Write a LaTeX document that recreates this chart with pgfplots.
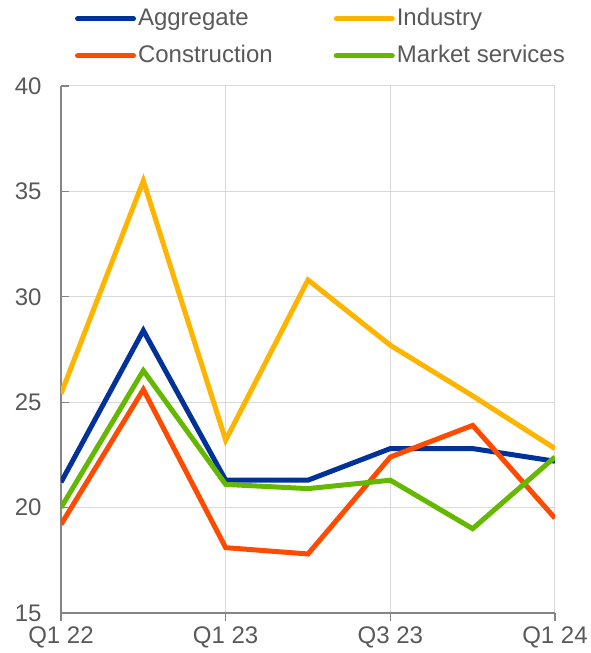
\documentclass[border=0pt]{standalone}
\usepackage{fontspec}
\setmainfont{Liberation Sans}
\usepackage{pgfplots}
\pgfplotsset{compat=1.18}
\definecolor{ecbblue}{HTML}{003299}
\definecolor{ecbyellow}{HTML}{FFB400}
\definecolor{ecborange}{HTML}{FF4B00}
\definecolor{ecbgreen}{HTML}{65B800}
\definecolor{txtgray}{HTML}{595959}
\definecolor{gridgray}{HTML}{D9D9D9}
\definecolor{axgray}{HTML}{858585}
\begin{document}
\begin{tikzpicture}
\begin{axis}[
  at={(61pt,40pt)}, anchor=south west,
  scale only axis, width=494pt, height=527pt,
  xmin=0, xmax=6, ymin=15, ymax=40,
  xtick={0,2,4,6}, xticklabels={Q1 22,Q1 23,Q3 23,Q1 24},
  ytick={15,20,...,40},
  axis lines*=left,
  axis line style={axgray, line width=1.3pt},
  major tick length=8pt,
  tick style={axgray, line width=1.3pt},
  x tick style={yshift=-8pt},
  grid=major,
  major grid style={gridgray, line width=1pt},
  /pgf/number format/assume math mode=true,
  tick label style={font=\fontsize{24}{28}\selectfont, text=txtgray},
  yticklabel style={xshift=-16pt},
  xticklabel style={yshift=-10pt},
  legend columns=2,
  legend cell align=left,
  legend style={at={(axis description cs:0.028,1.1533)}, anchor=north west,
    draw=none, fill=none, inner sep=0pt,
    font=\fontsize{24}{28}\selectfont, text=txtgray,
    nodes={inner sep=2pt, text height=18pt, text depth=5pt},
    row sep=10pt,
    /tikz/every even column/.append style={column sep=59pt}},
  legend image code/.code={\draw[#1, line cap=round] (0pt,0pt) -- (56pt,0pt);},
  every axis plot/.append style={line width=5pt},
]
\addplot[ecbblue] coordinates {(0,21.2) (1,28.4) (2,21.3) (3,21.3) (4,22.8) (5,22.8) (6,22.2)};
\addlegendentry{Aggregate}
\addplot[ecbyellow] coordinates {(0,25.4) (1,35.5) (2,23.2) (3,30.8) (4,27.7) (5,25.3) (6,22.8)};
\addlegendentry{Industry}
\addplot[ecborange] coordinates {(0,19.2) (1,25.6) (2,18.1) (3,17.8) (4,22.4) (5,23.9) (6,19.5)};
\addlegendentry{Construction}
\addplot[ecbgreen] coordinates {(0,20.0) (1,26.5) (2,21.1) (3,20.9) (4,21.3) (5,19.0) (6,22.4)};
\addlegendentry{Market services}
\end{axis}
\pgfresetboundingbox
\useasboundingbox (0pt,0pt) rectangle (590pt,653pt);
\end{tikzpicture}
\end{document}
